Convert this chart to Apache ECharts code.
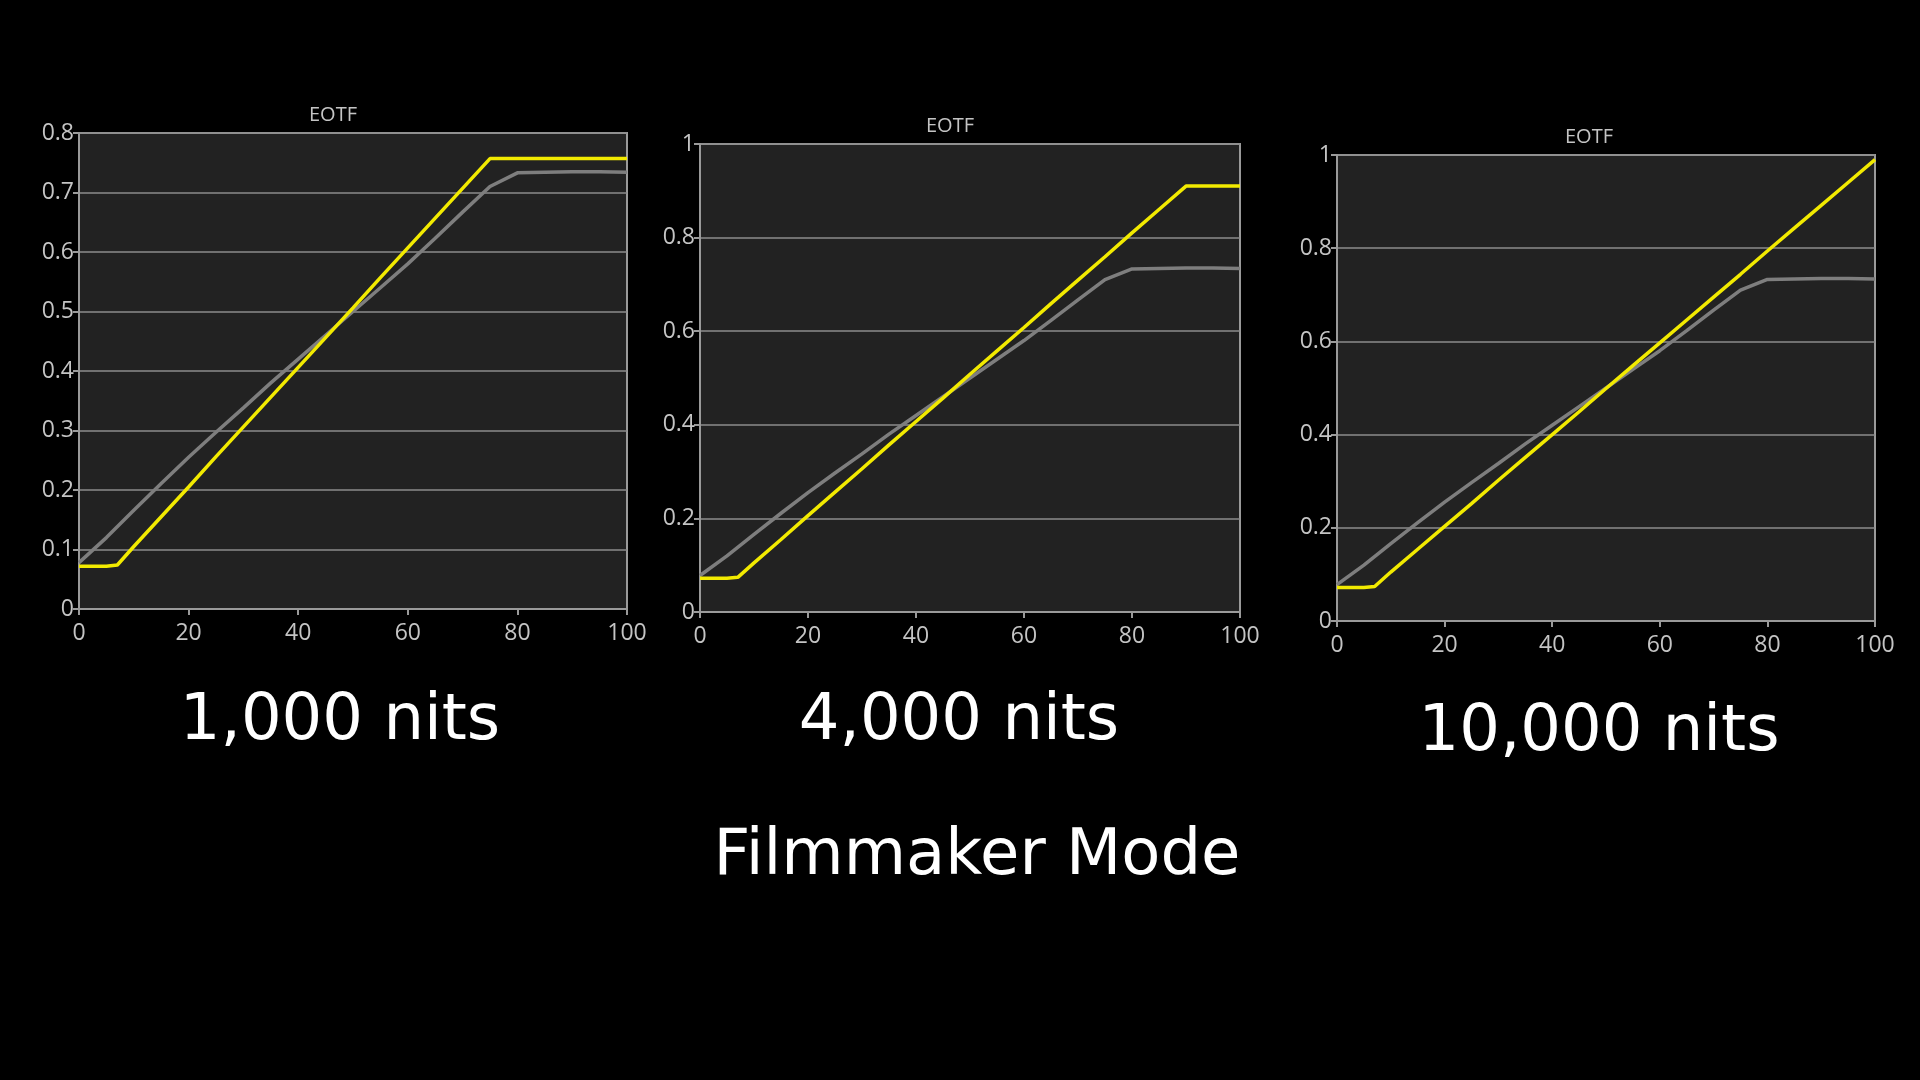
<!DOCTYPE html>
<html>
<head>
<meta charset="utf-8">
<script src="https://cdn.jsdelivr.net/npm/echarts@6/dist/echarts.min.js"></script>
<style>
html,body{margin:0;padding:0;background:#000;}
#c{width:1920px;height:1080px;}
</style>
</head>
<body>
<div id="c"></div>
<script>
// ---- data ----
const chartTitles = ['EOTF', 'EOTF', 'EOTF'];
const panelLabels = ['1,000 nits', '4,000 nits', '10,000 nits'];
const footerLabel = 'Filmmaker Mode';
const xTicks = [0, 20, 40, 60, 80, 100];

const xGray = [0,5,10,15,20,25,30,35,40,45,50,55,60,65,70,75,80,85,90,95,100];
const grayTarget = [0.078,0.12,0.166,0.211,0.255,0.297,0.338,0.38,0.42,0.46,0.5,0.54,0.58,0.623,0.667,0.71,0.733,0.734,0.735,0.735,0.734];

const xYellow = [0,5,7,10,15,20,25,30,35,40,45,50,55,60,65,70,75,80,85,90,95,100];
const yellow1000 = [0.072,0.072,0.074,0.105,0.155,0.205,0.256,0.306,0.356,0.406,0.456,0.506,0.557,0.607,0.657,0.707,0.757,0.757,0.757,0.757,0.757,0.757];
const yellow4000 = [0.072,0.072,0.074,0.105,0.155,0.206,0.256,0.306,0.357,0.407,0.457,0.508,0.558,0.608,0.659,0.709,0.759,0.81,0.86,0.91,0.91,0.91];
const yellow10000 = [0.072,0.072,0.074,0.105,0.154,0.203,0.252,0.302,0.351,0.4,0.449,0.499,0.548,0.597,0.646,0.695,0.744,0.794,0.843,0.892,0.941,0.99];

const yMax = [0.8, 1, 1];
const yStep = [0.1, 0.2, 0.2];
// ---- end data ----

const pair = (xs, ys) => xs.map((x, i) => [x, ys[i]]);
const yellows = [yellow1000, yellow4000, yellow10000];

const grids = [
  {left: 79, top: 133, width: 548, height: 476},
  {left: 700, top: 144, width: 540, height: 468},
  {left: 1337, top: 155, width: 538, height: 466}
];
const titleX = [328, 945, 1584];

const labelFont = 'Open Sans';
const axisColor = '#9a9a9a';
const labelColor = '#c4c4c4';
const bigFont = '64px "DejaVu Sans"';

const option = {
  backgroundColor: '#000',
  animation: false,
  title: grids.map((g, i) => ({
    text: chartTitles[i],
    left: titleX[i],
    top: g.top - 33,
    textAlign: 'center',
    textStyle: {color: labelColor, fontFamily: labelFont, fontSize: 20, fontWeight: 'normal'}
  })),
  grid: grids.map(g => Object.assign({
    show: true, backgroundColor: '#222222', borderColor: axisColor, borderWidth: 2, containLabel: false
  }, g)),
  xAxis: grids.map((g, i) => ({
    type: 'value', gridIndex: i, min: 0, max: 100, interval: 20,
    axisLine: {show: true, lineStyle: {color: axisColor, width: 2}},
    axisTick: {show: true, length: 6, lineStyle: {color: axisColor, width: 2}},
    axisLabel: {color: labelColor, fontFamily: labelFont, fontSize: 23, margin: 13},
    splitLine: {show: false}
  })),
  yAxis: grids.map((g, i) => ({
    type: 'value', gridIndex: i, min: 0, max: yMax[i], interval: yStep[i],
    axisLine: {show: true, lineStyle: {color: axisColor, width: 2}},
    axisTick: {show: true, length: 6, lineStyle: {color: axisColor, width: 2}},
    axisLabel: {color: labelColor, fontFamily: labelFont, fontSize: 23, margin: 5,
      formatter: v => String(Math.round(v * 10) / 10)},
    splitLine: {show: true, lineStyle: {color: '#8c8c8c', width: 1.5}}
  })),
  series: [].concat(...grids.map((g, i) => ([
    {
      type: 'line', xAxisIndex: i, yAxisIndex: i, data: pair(xGray, grayTarget),
      showSymbol: false, lineStyle: {color: '#7e7e7e', width: 3.5}, z: 2
    },
    {
      type: 'line', xAxisIndex: i, yAxisIndex: i, data: pair(xYellow, yellows[i]),
      showSymbol: false, lineStyle: {color: '#f2ea00', width: 3.5}, z: 3
    }
  ]))),
  graphic: [
    {type: 'text', x: 340, y: 722, style: {text: panelLabels[0], fill: '#fff', font: bigFont, textAlign: 'center', textVerticalAlign: 'middle'}},
    {type: 'text', x: 959, y: 722, style: {text: panelLabels[1], fill: '#fff', font: bigFont, textAlign: 'center', textVerticalAlign: 'middle'}},
    {type: 'text', x: 1599, y: 733, style: {text: panelLabels[2], fill: '#fff', font: bigFont, textAlign: 'center', textVerticalAlign: 'middle'}},
    {type: 'text', x: 977, y: 857, style: {text: footerLabel, fill: '#fff', font: bigFont, textAlign: 'center', textVerticalAlign: 'middle'}}
  ]
};

const chart = echarts.init(document.getElementById('c'));
chart.setOption(option);
</script>
</body>
</html>
